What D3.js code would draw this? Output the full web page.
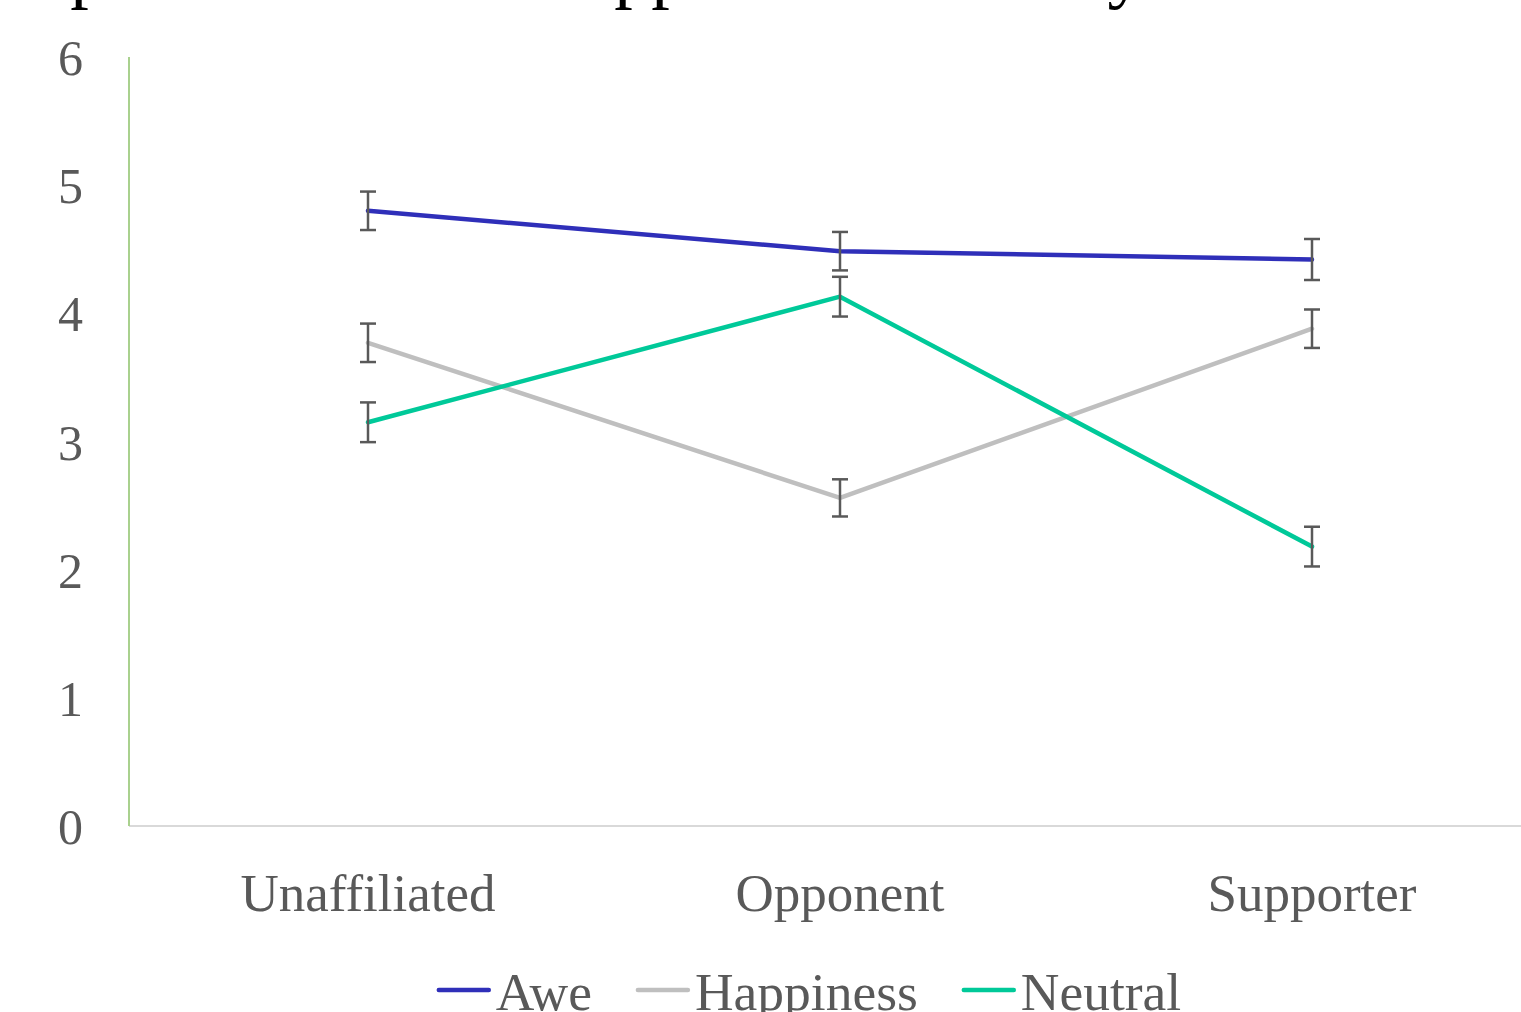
<!DOCTYPE html>
<html>
<head>
<meta charset="utf-8">
<script src="https://cdn.jsdelivr.net/npm/d3@7"></script>
<style>
  html, body { margin: 0; padding: 0; background: #ffffff; overflow: hidden; }
  svg { display: block; }
</style>
</head>
<body>
<svg id="chart" width="1521" height="1012"></svg>
<script>
// ---- data ----
const titleText = "Reported Awe vs. Happiness Scores by Affiliation";
const categories = ["Unaffiliated", "Opponent", "Supporter"];
const seriesNames = ["Awe", "Happiness", "Neutral"];
const aweValues = [4.80, 4.485, 4.42];
const aweErrors = [0.15, 0.15, 0.16];
const happinessValues = [3.77, 2.56, 3.88];
const happinessErrors = [0.15, 0.145, 0.15];
const neutralValues = [3.15, 4.13, 2.18];
const neutralErrors = [0.155, 0.155, 0.155];
const yTicks = [0, 1, 2, 3, 4, 5, 6];
const seriesColors = ["#2f2fb9", "#bfbfbf", "#00c999"];

const series = [
  { name: seriesNames[0], values: aweValues, errors: aweErrors, color: seriesColors[0] },
  { name: seriesNames[1], values: happinessValues, errors: happinessErrors, color: seriesColors[1] },
  { name: seriesNames[2], values: neutralValues, errors: neutralErrors, color: seriesColors[2] }
];

const svg = d3.select("#chart");
const font = "'Liberation Serif', 'Times New Roman', serif";
const textColor = "#595959";

const axisX = 129, plotLeft = 132, plotRight = 1548, plotTop = 57, plotBottom = 826;

const x = d3.scalePoint().domain(categories).range([plotLeft, plotRight]).padding(0.5);
const y = d3.scaleLinear().domain([0, 6]).range([plotBottom, plotTop]);

// title (cropped at top in reference)
svg.append("text")
  .attr("x", -12).attr("y", -6)
  .attr("font-family", font).attr("font-size", 74)
  .attr("fill", "#000000")
  .text(titleText);

// x axis line
svg.append("line")
  .attr("x1", axisX).attr("x2", 1521)
  .attr("y1", y(0)).attr("y2", y(0))
  .attr("stroke", "#d9d9d9").attr("stroke-width", 2);

// y axis line
svg.append("line")
  .attr("x1", axisX).attr("x2", axisX)
  .attr("y1", y(0)).attr("y2", y(6))
  .attr("stroke", "#a9d18e").attr("stroke-width", 2);

// y tick labels
svg.append("g").selectAll("text").data(yTicks).join("text")
  .attr("x", 83)
  .attr("y", d => y(d) + 18)
  .attr("text-anchor", "end")
  .attr("font-family", font).attr("font-size", 50)
  .attr("fill", textColor)
  .text(d => d);

// x category labels
svg.append("g").selectAll("text").data(categories).join("text")
  .attr("x", d => x(d))
  .attr("y", 911)
  .attr("text-anchor", "middle")
  .attr("font-family", font).attr("font-size", 53)
  .attr("fill", textColor)
  .text(d => d);

// lines
const line = d3.line()
  .x((d, i) => x(categories[i]))
  .y(d => y(d));

svg.append("g").selectAll("path").data(series).join("path")
  .attr("d", s => line(s.values))
  .attr("fill", "none")
  .attr("stroke", s => s.color)
  .attr("stroke-width", 4.5)
  .attr("stroke-linejoin", "round")
  .attr("stroke-linecap", "round");

// error bars
const errG = svg.append("g").attr("stroke", "#595959").attr("stroke-width", 2.5).attr("fill", "none");
series.forEach(s => {
  s.values.forEach((v, i) => {
    const cx = x(categories[i]);
    const e = s.errors[i];
    errG.append("line").attr("x1", cx).attr("x2", cx).attr("y1", y(v + e)).attr("y2", y(v - e));
    errG.append("line").attr("x1", cx - 8).attr("x2", cx + 8).attr("y1", y(v + e)).attr("y2", y(v + e));
    errG.append("line").attr("x1", cx - 8).attr("x2", cx + 8).attr("y1", y(v - e)).attr("y2", y(v - e));
  });
});

// legend
const legend = svg.append("g");
const symW = 50, symGap = 7, itemGap = 46;
let lx = 0;
const items = [];
series.forEach(s => {
  const g = legend.append("g");
  g.append("line")
    .attr("x1", 0).attr("x2", symW)
    .attr("y1", 990).attr("y2", 990)
    .attr("stroke", s.color).attr("stroke-width", 4.5)
    .attr("stroke-linecap", "round");
  const t = g.append("text")
    .attr("x", symW + symGap).attr("y", 1010)
    .attr("font-family", font).attr("font-size", 53.5)
    .attr("fill", textColor)
    .text(s.name);
  const w = symW + symGap + t.node().getComputedTextLength();
  items.push({ g, w });
});
const totalW = d3.sum(items, d => d.w) + itemGap * (items.length - 1);
lx = 810 - totalW / 2;
items.forEach(it => {
  it.g.attr("transform", `translate(${lx},0)`);
  lx += it.w + itemGap;
});
</script>
</body>
</html>
